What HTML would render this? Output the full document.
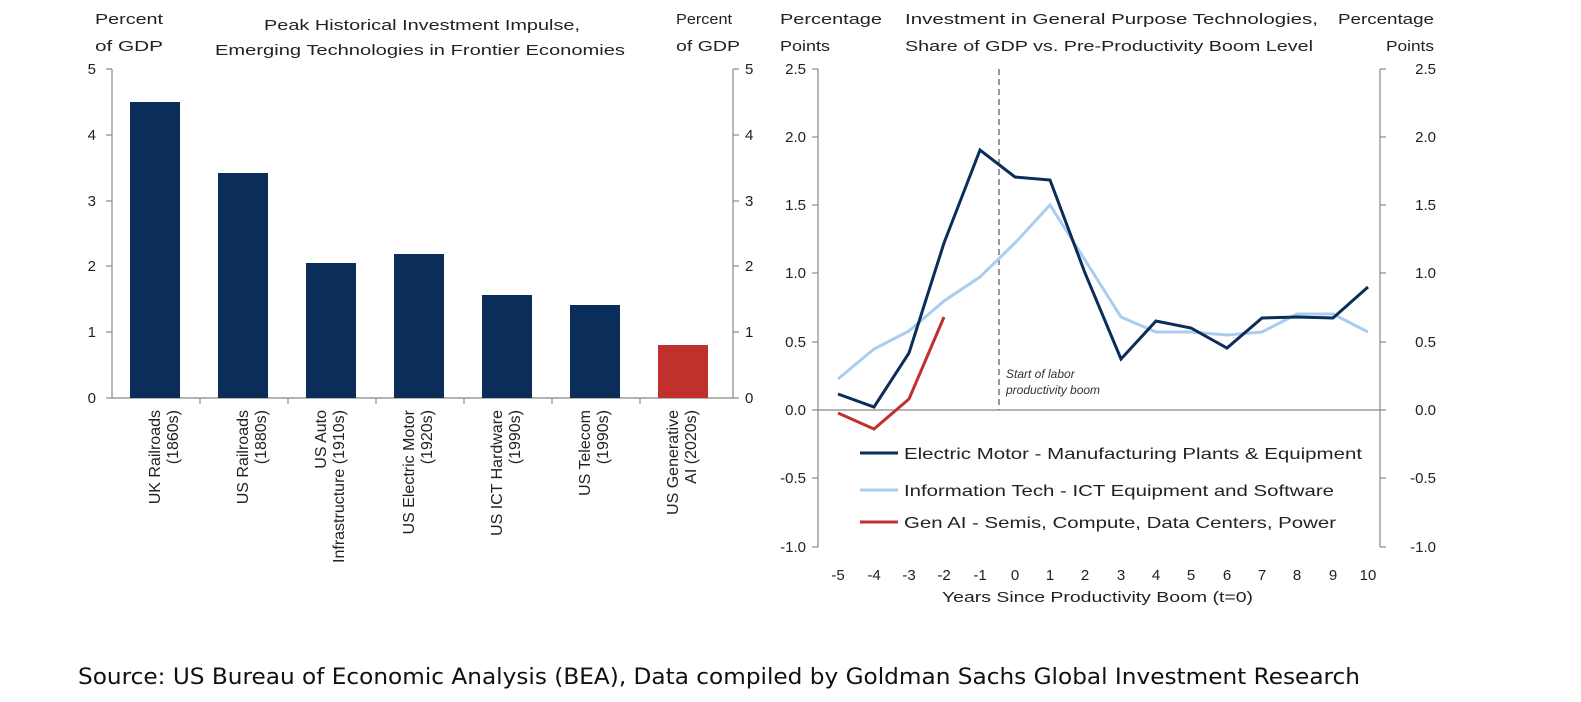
<!DOCTYPE html>
<html><head><meta charset="utf-8"><style>
html,body{margin:0;padding:0;background:#fff;}
svg{display:block;font-family:"Liberation Sans",Arial,sans-serif;}
</style></head><body>
<svg width="1581" height="702" viewBox="0 0 1581 702" xmlns="http://www.w3.org/2000/svg">
<rect width="1581" height="702" fill="#fff"/>
<g font-size="15" fill="#222">
<text x="95" y="24" textLength="68" lengthAdjust="spacingAndGlyphs">Percent</text>
<text x="95" y="51" textLength="68" lengthAdjust="spacingAndGlyphs">of GDP</text>
<text x="264" y="30" textLength="316" lengthAdjust="spacingAndGlyphs">Peak Historical Investment Impulse,</text>
<text x="215" y="55" textLength="410" lengthAdjust="spacingAndGlyphs">Emerging Technologies  in Frontier Economies</text>
<text x="676" y="24" textLength="56" lengthAdjust="spacingAndGlyphs">Percent</text>
<text x="676" y="51" textLength="64" lengthAdjust="spacingAndGlyphs">of GDP</text>
</g>
<g stroke="#888" stroke-width="1.2">
<line x1="112" y1="69" x2="112" y2="398"/>
<line x1="733" y1="69" x2="733" y2="398"/>
<line x1="112" y1="398" x2="733" y2="398"/>
<line x1="106" y1="69" x2="112" y2="69"/><line x1="106" y1="135" x2="112" y2="135"/><line x1="106" y1="201" x2="112" y2="201"/><line x1="106" y1="266" x2="112" y2="266"/><line x1="106" y1="332" x2="112" y2="332"/><line x1="106" y1="398" x2="112" y2="398"/>
<line x1="733" y1="69" x2="739" y2="69"/><line x1="733" y1="135" x2="739" y2="135"/><line x1="733" y1="201" x2="739" y2="201"/><line x1="733" y1="266" x2="739" y2="266"/><line x1="733" y1="332" x2="739" y2="332"/><line x1="733" y1="398" x2="739" y2="398"/>
<line x1="200" y1="398" x2="200" y2="404"/><line x1="288" y1="398" x2="288" y2="404"/><line x1="376" y1="398" x2="376" y2="404"/><line x1="464" y1="398" x2="464" y2="404"/><line x1="552" y1="398" x2="552" y2="404"/><line x1="640" y1="398" x2="640" y2="404"/>
</g>
<g font-size="15" fill="#222">
<text x="96" y="74" text-anchor="end">5</text><text x="96" y="140" text-anchor="end">4</text><text x="96" y="206" text-anchor="end">3</text><text x="96" y="271" text-anchor="end">2</text><text x="96" y="337" text-anchor="end">1</text><text x="96" y="403" text-anchor="end">0</text>
<text x="745" y="74">5</text><text x="745" y="140">4</text><text x="745" y="206">3</text><text x="745" y="271">2</text><text x="745" y="337">1</text><text x="745" y="403">0</text>
</g>
<g fill="#0b2d5a">
<rect x="130" y="102" width="50" height="296"/>
<rect x="218" y="173" width="50" height="225"/>
<rect x="306" y="263" width="50" height="135"/>
<rect x="394" y="254" width="50" height="144"/>
<rect x="482" y="295" width="50" height="103"/>
<rect x="570" y="305" width="50" height="93"/>
</g>
<rect x="658" y="345" width="50" height="53" fill="#c0312e"/>
<g font-size="16" fill="#222">
<text transform="translate(160,410) rotate(-90)" text-anchor="end">UK Railroads</text>
<text transform="translate(178,410) rotate(-90)" text-anchor="end">(1860s)</text>
<text transform="translate(248,410) rotate(-90)" text-anchor="end">US Railroads</text>
<text transform="translate(266,410) rotate(-90)" text-anchor="end">(1880s)</text>
<text transform="translate(326,410) rotate(-90)" text-anchor="end">US Auto</text>
<text transform="translate(344,410) rotate(-90)" text-anchor="end">Infrastructure (1910s)</text>
<text transform="translate(414,410) rotate(-90)" text-anchor="end">US Electric Motor</text>
<text transform="translate(432,410) rotate(-90)" text-anchor="end">(1920s)</text>
<text transform="translate(502,410) rotate(-90)" text-anchor="end">US ICT Hardware</text>
<text transform="translate(520,410) rotate(-90)" text-anchor="end">(1990s)</text>
<text transform="translate(590,410) rotate(-90)" text-anchor="end">US Telecom</text>
<text transform="translate(608,410) rotate(-90)" text-anchor="end">(1990s)</text>
<text transform="translate(678,410) rotate(-90)" text-anchor="end">US Generative</text>
<text transform="translate(696,410) rotate(-90)" text-anchor="end">AI (2020s)</text>
</g>
<g font-size="15" fill="#222">
<text x="780" y="24" textLength="102" lengthAdjust="spacingAndGlyphs">Percentage</text>
<text x="780" y="51" textLength="50" lengthAdjust="spacingAndGlyphs">Points</text>
<text x="905" y="24" textLength="413" lengthAdjust="spacingAndGlyphs">Investment in General Purpose Technologies,</text>
<text x="905" y="51" textLength="408" lengthAdjust="spacingAndGlyphs">Share of GDP vs. Pre-Productivity  Boom Level</text>
<text x="1338" y="24" textLength="96" lengthAdjust="spacingAndGlyphs">Percentage</text>
<text x="1386" y="51" textLength="48" lengthAdjust="spacingAndGlyphs">Points</text>
</g>
<g stroke="#888" stroke-width="1.2">
<line x1="818" y1="69" x2="818" y2="547"/>
<line x1="1380" y1="69" x2="1380" y2="547"/>
<line x1="818" y1="410" x2="1380" y2="410"/>
<line x1="812" y1="69" x2="818" y2="69"/><line x1="812" y1="137" x2="818" y2="137"/><line x1="812" y1="205" x2="818" y2="205"/><line x1="812" y1="273" x2="818" y2="273"/><line x1="812" y1="342" x2="818" y2="342"/><line x1="812" y1="410" x2="818" y2="410"/><line x1="812" y1="478" x2="818" y2="478"/><line x1="812" y1="547" x2="818" y2="547"/>
<line x1="1380" y1="69" x2="1386" y2="69"/><line x1="1380" y1="137" x2="1386" y2="137"/><line x1="1380" y1="205" x2="1386" y2="205"/><line x1="1380" y1="273" x2="1386" y2="273"/><line x1="1380" y1="342" x2="1386" y2="342"/><line x1="1380" y1="410" x2="1386" y2="410"/><line x1="1380" y1="478" x2="1386" y2="478"/><line x1="1380" y1="547" x2="1386" y2="547"/>
</g>
<g font-size="15" fill="#222">
<text x="806" y="74" text-anchor="end">2.5</text><text x="806" y="142" text-anchor="end">2.0</text><text x="806" y="210" text-anchor="end">1.5</text><text x="806" y="278" text-anchor="end">1.0</text><text x="806" y="347" text-anchor="end">0.5</text><text x="806" y="415" text-anchor="end">0.0</text><text x="806" y="483" text-anchor="end">-0.5</text><text x="806" y="552" text-anchor="end">-1.0</text>
<text x="1436" y="74" text-anchor="end">2.5</text><text x="1436" y="142" text-anchor="end">2.0</text><text x="1436" y="210" text-anchor="end">1.5</text><text x="1436" y="278" text-anchor="end">1.0</text><text x="1436" y="347" text-anchor="end">0.5</text><text x="1436" y="415" text-anchor="end">0.0</text><text x="1436" y="483" text-anchor="end">-0.5</text><text x="1436" y="552" text-anchor="end">-1.0</text>
</g>
<g font-size="15" fill="#222" text-anchor="middle">
<text x="838" y="580">-5</text><text x="874" y="580">-4</text><text x="909" y="580">-3</text><text x="944" y="580">-2</text><text x="980" y="580">-1</text><text x="1015" y="580">0</text><text x="1050" y="580">1</text><text x="1085" y="580">2</text><text x="1121" y="580">3</text><text x="1156" y="580">4</text><text x="1191" y="580">5</text><text x="1227" y="580">6</text><text x="1262" y="580">7</text><text x="1297" y="580">8</text><text x="1333" y="580">9</text><text x="1368" y="580">10</text>
</g>
<text x="942" y="602" font-size="15" fill="#222" textLength="311" lengthAdjust="spacingAndGlyphs">Years Since Productivity Boom (t=0)</text>
<line x1="999" y1="69" x2="999" y2="410" stroke="#777" stroke-width="1.5" stroke-dasharray="6,4"/>
<g font-size="12" font-style="italic" fill="#333">
<text x="1006" y="378">Start of labor</text>
<text x="1006" y="394">productivity boom</text>
</g>
<polyline fill="none" stroke="#a9cdf0" stroke-width="3" points="838,379 874,349 909,331 944,301 980,277 1015,243 1050,205 1085,260 1121,317 1156,332 1191,332 1227,335 1262,332 1297,314 1333,314 1368,332"/>
<polyline fill="none" stroke="#0b2d5a" stroke-width="3" points="838,394 874,407 909,353 944,243 980,150 1015,177 1050,180 1085,273 1121,359 1156,321 1191,328 1227,348 1262,318 1297,317 1333,318 1368,287"/>
<polyline fill="none" stroke="#c0312e" stroke-width="3" points="838,413 874,429 909,399 944,317"/>
<g font-size="16" fill="#222">
<line x1="860" y1="453" x2="898" y2="453" stroke="#0b2d5a" stroke-width="3"/>
<text x="904" y="459" textLength="458" lengthAdjust="spacingAndGlyphs">Electric Motor -  Manufacturing Plants &amp; Equipment</text>
<line x1="860" y1="490" x2="898" y2="490" stroke="#a9cdf0" stroke-width="3"/>
<text x="904" y="496" textLength="430" lengthAdjust="spacingAndGlyphs">Information Tech - ICT Equipment and Software</text>
<line x1="860" y1="522" x2="898" y2="522" stroke="#c0312e" stroke-width="3"/>
<text x="904" y="528" textLength="432" lengthAdjust="spacingAndGlyphs">Gen AI - Semis, Compute, Data Centers, Power</text>
</g>
<text x="78" y="684" font-size="22" fill="#111" font-family="'DejaVu Sans','Liberation Sans',sans-serif" textLength="1282" lengthAdjust="spacingAndGlyphs">Source: US Bureau of Economic Analysis (BEA), Data compiled by Goldman Sachs Global Investment Research</text>
</svg>
</body></html>
